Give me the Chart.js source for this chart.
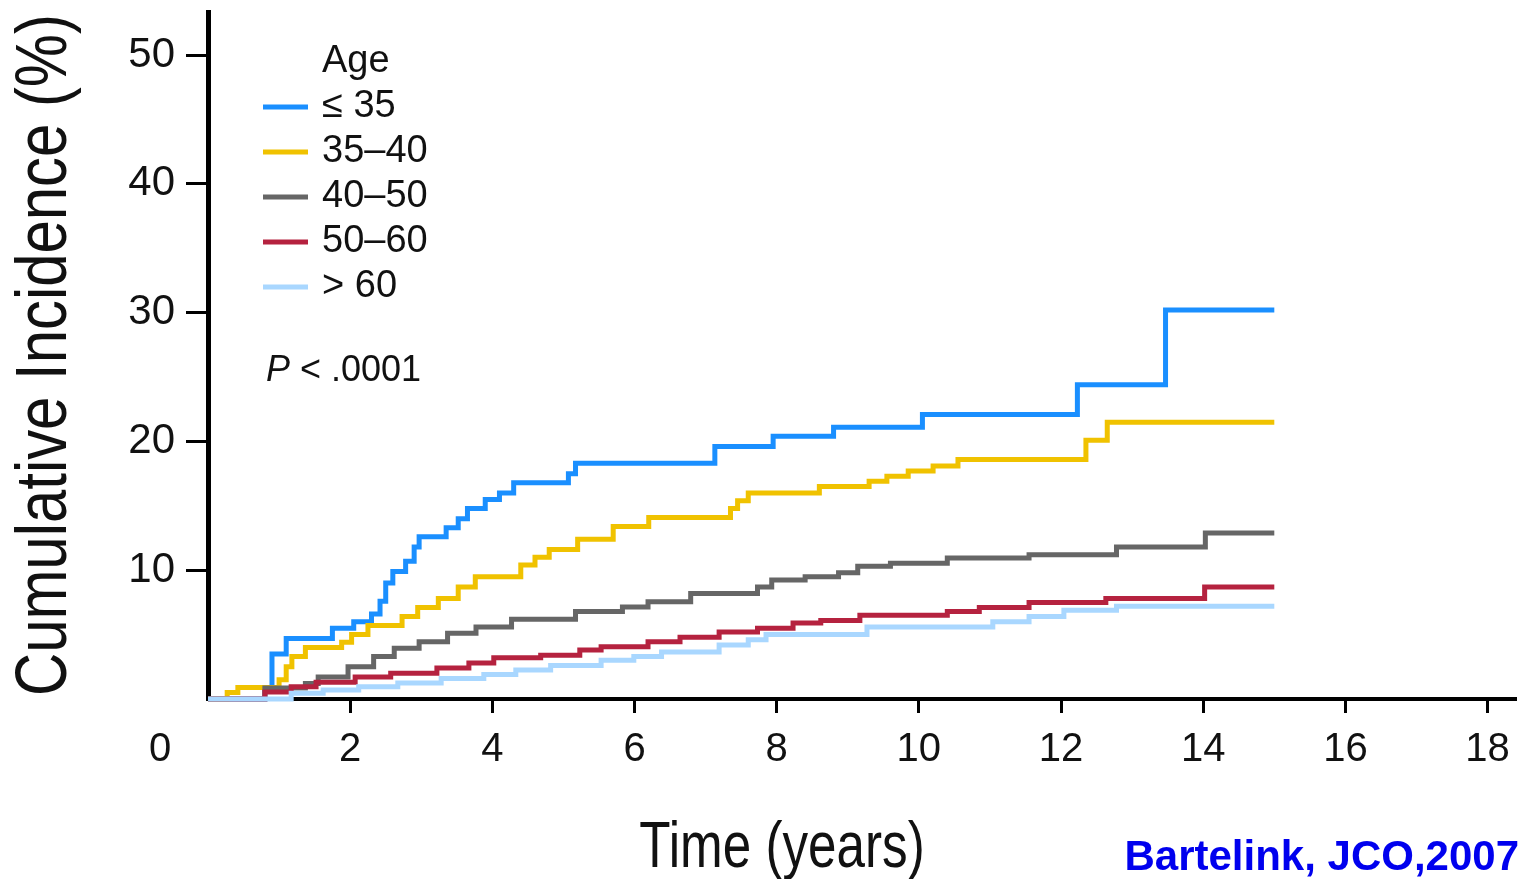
<!DOCTYPE html>
<html>
<head>
<meta charset="utf-8">
<script src="https://cdn.jsdelivr.net/npm/chart.js@4.4.1/dist/chart.umd.min.js"></script>
<style>
  html, body { margin: 0; padding: 0; background: #ffffff; }
  #wrap { width: 1524px; height: 879px; position: relative; }
  canvas { display: block; }
</style>
</head>
<body>
<div id="wrap"><canvas id="chart" width="1524" height="879"></canvas></div>
<script>
// Cumulative incidence by age group (step curves), time in years
const groupLabels = ['\u2264 35', '35\u201340', '40\u201350', '50\u201360', '> 60'];
const groupColors = ['#1a8fff', '#f0c200', '#666666', '#b5223f', '#a9d7ff'];

const timeLe35 = [0, 0.8, 0.9, 1.1, 1.75, 2.05, 2.3, 2.42, 2.5, 2.6, 2.78, 2.9, 2.97, 3.35, 3.52, 3.65, 3.9, 4.1, 4.3, 5.07, 5.17, 7.13, 7.95, 8.8, 10.05, 12.23, 13.47, 15.0];
const incLe35  = [0, 0.7, 3.5, 4.7, 5.5, 6.0, 6.6, 7.6, 9.0, 9.9, 10.7, 11.8, 12.6, 13.3, 14.0, 14.8, 15.5, 16.0, 16.8, 17.5, 18.3, 19.6, 20.4, 21.1, 22.1, 24.4, 30.2, 30.2];

const time35to40 = [0, 0.27, 0.42, 1.0, 1.1, 1.18, 1.37, 1.88, 2.02, 2.25, 2.73, 2.95, 3.24, 3.52, 3.76, 4.4, 4.6, 4.8, 5.2, 5.7, 6.2, 7.35, 7.45, 7.6, 8.6, 9.3, 9.55, 9.85, 10.2, 10.55, 12.35, 12.65, 15.0];
const inc35to40  = [0, 0.5, 0.9, 1.5, 2.5, 3.3, 4.0, 4.4, 5.0, 5.7, 6.4, 7.1, 7.8, 8.7, 9.5, 10.4, 11.0, 11.6, 12.4, 13.4, 14.1, 14.8, 15.4, 16.0, 16.5, 16.9, 17.3, 17.7, 18.1, 18.6, 20.1, 21.5, 21.5];

const time40to50 = [0, 0.8, 1.37, 1.55, 1.97, 2.33, 2.62, 2.97, 3.37, 3.77, 4.27, 5.17, 5.83, 6.19, 6.79, 7.73, 7.93, 8.4, 8.87, 9.14, 9.6, 10.4, 11.55, 12.78, 14.03, 15.0];
const inc40to50  = [0, 0.85, 1.2, 1.7, 2.5, 3.3, 3.95, 4.45, 5.1, 5.6, 6.2, 6.8, 7.15, 7.55, 8.2, 8.7, 9.25, 9.5, 9.8, 10.3, 10.55, 10.95, 11.2, 11.8, 12.9, 12.9];

const time50to60 = [0, 0.8, 1.17, 1.52, 2.07, 2.57, 3.22, 3.67, 4.02, 4.68, 5.23, 5.53, 6.19, 6.64, 7.19, 7.73, 8.23, 8.62, 9.17, 10.4, 10.85, 11.55, 12.63, 14.02, 15.0];
const inc50to60  = [0, 0.55, 0.95, 1.3, 1.7, 2.0, 2.4, 2.8, 3.2, 3.4, 3.8, 4.05, 4.45, 4.8, 5.2, 5.5, 5.9, 6.1, 6.5, 6.8, 7.1, 7.5, 7.8, 8.7, 8.7];

const timeOver60 = [0, 1.17, 1.62, 2.12, 2.67, 3.28, 3.88, 4.33, 4.82, 5.53, 5.99, 6.38, 7.19, 7.6, 7.85, 9.27, 11.04, 11.55, 12.04, 12.78, 15.0];
const incOver60  = [0, 0.45, 0.7, 0.95, 1.25, 1.6, 1.9, 2.25, 2.6, 3.0, 3.3, 3.65, 4.2, 4.6, 5.0, 5.6, 6.0, 6.4, 6.9, 7.2, 7.2];

const groupTimes = [timeLe35, time35to40, time40to50, time50to60, timeOver60];
const groupIncidence = [incLe35, inc35to40, inc40to50, inc50to60, incOver60];

const xTickValues = [2, 4, 6, 8, 10, 12, 14, 16, 18];
const yTickValues = [10, 20, 30, 40, 50];
const xRange = [0, 18.4];
const yRange = [0, 53.35];

const SANS = "'Liberation Sans', Arial, sans-serif";

const datasets = groupLabels.map((label, i) => ({
  label: label,
  data: groupTimes[i].map((t, k) => ({ x: t, y: groupIncidence[i][k] })),
  borderColor: groupColors[i],
  backgroundColor: groupColors[i],
  borderWidth: 5,
  stepped: true,
  pointRadius: 0,
  fill: false,
  clip: false,
  order: groupLabels.length - i
}));

// text squeezed horizontally (narrow face look)
function condensedText(ctx, text, x, y, squeeze, angle) {
  ctx.save();
  ctx.translate(x, y);
  if (angle) ctx.rotate(angle);
  ctx.scale(squeeze, 1);
  ctx.fillText(text, 0, 0);
  ctx.restore();
}

// Legend, p-value, corner zero, axis titles and source note
const annotations = {
  id: 'annotations',
  afterDraw(chart) {
    const ctx = chart.ctx;
    ctx.save();
    ctx.fillStyle = '#111111';
    ctx.textBaseline = 'middle';
    ctx.textAlign = 'left';
    ctx.font = '38px ' + SANS;
    ctx.fillText('Age', 322, 62);
    chart.data.datasets.forEach((ds, i) => {
      const y = 107 + i * 45;
      ctx.strokeStyle = ds.borderColor;
      ctx.lineWidth = 5;
      ctx.beginPath();
      ctx.moveTo(263, y);
      ctx.lineTo(308, y);
      ctx.stroke();
      ctx.fillStyle = '#111111';
      ctx.fillText(ds.label, 322, y);
    });
    // p-value
    ctx.font = 'italic 36px ' + SANS;
    ctx.fillText('P', 266, 371);
    const pw = ctx.measureText('P').width;
    ctx.font = '36px ' + SANS;
    ctx.fillText(' < .0001', 266 + pw, 371);
    // shared origin label
    ctx.textAlign = 'center';
    ctx.font = '40px ' + SANS;
    ctx.fillText('0', 160, 750);
    // y-axis title
    ctx.font = '73px ' + SANS;
    condensedText(ctx, 'Cumulative Incidence (%)', 46, 355, 0.82, -Math.PI / 2);
    // x-axis title
    ctx.textBaseline = 'alphabetic';
    ctx.font = '64px ' + SANS;
    condensedText(ctx, 'Time (years)', 782, 867, 0.8, 0);
    // source note
    ctx.textAlign = 'right';
    ctx.fillStyle = '#0000ee';
    ctx.font = 'bold 42px ' + SANS;
    ctx.fillText('Bartelink, JCO,2007', 1519, 870);
    ctx.restore();
  }
};

new Chart(document.getElementById('chart'), {
  type: 'line',
  data: { datasets: datasets },
  options: {
    responsive: false,
    animation: false,
    devicePixelRatio: 1,
    layout: { padding: { left: 0, right: 8, top: 12, bottom: 0 } },
    plugins: { legend: { display: false }, tooltip: { enabled: false } },
    scales: {
      x: {
        type: 'linear',
        min: xRange[0],
        max: xRange[1],
        afterBuildTicks: s => { s.ticks = xTickValues.map(v => ({ value: v })); },
        afterFit: s => { s.height = 180; s.paddingLeft = 0; s.paddingRight = 0; },
        border: { display: true, color: '#000000', width: 4 },
        grid: { drawOnChartArea: false, drawTicks: true, tickLength: 14, tickWidth: 3, tickColor: '#000000' },
        ticks: { color: '#111111', font: { family: SANS, size: 40 }, padding: 13, maxRotation: 0, autoSkip: false },
        title: { display: false }
      },
      y: {
        type: 'linear',
        min: yRange[0],
        max: yRange[1],
        afterBuildTicks: s => { s.ticks = yTickValues.map(v => ({ value: v })); },
        afterFit: s => { s.width = 208; s.paddingTop = 0; s.paddingBottom = 0; },
        border: { display: true, color: '#000000', width: 5 },
        grid: { drawOnChartArea: false, drawTicks: true, tickLength: 22, tickWidth: 3, tickColor: '#000000' },
        ticks: { color: '#111111', font: { family: SANS, size: 42 }, padding: 11, autoSkip: false },
        title: { display: false }
      }
    }
  },
  plugins: [annotations]
});
</script>
</body>
</html>
